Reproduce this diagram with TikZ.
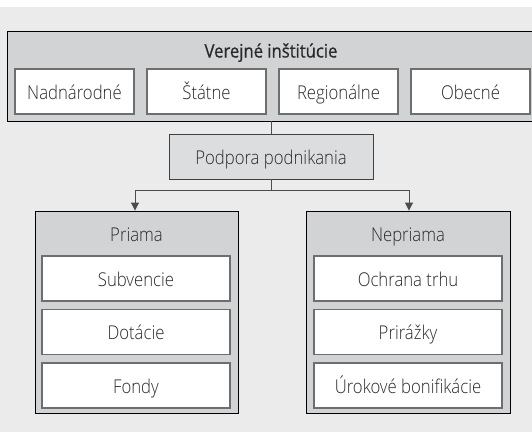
\documentclass[tikz,border=0pt]{standalone}
\usepackage{fontspec}
\setmainfont{Open Sans Light}[FakeStretch=0.88, BoldFont={Open Sans}, BoldFeatures={FakeBold=0.7, FakeStretch=0.9}]
\usetikzlibrary{arrows.meta}
\definecolor{bgpage}{HTML}{EBEBEC}
\definecolor{groupfill}{HTML}{D2D3D5}
\definecolor{midfill}{HTML}{DCDDDE}
\definecolor{itemline}{HTML}{6E6E6E}
\definecolor{txt}{HTML}{2A2A2A}
\begin{document}
\begin{tikzpicture}[x=1pt,y=-1pt,
  textfont/.style={text=txt, font=\fontsize{19}{22}\selectfont,
    text height=19pt, text depth=4pt},
  group/.style={draw=black, line width=0.9pt, fill=groupfill, inner sep=0pt},
  item/.style={textfont, draw=itemline, line width=1.3pt, fill=white, inner sep=0pt,
    minimum height=45pt},
  label/.style={textfont, inner sep=0pt},
  link/.style={draw=black!70, line width=0.9pt},
  arrowlink/.style={link, -{Triangle[width=8pt,length=8pt]}}]
  \useasboundingbox (0,0) rectangle (532,432);
  \fill[bgpage] (0,7) rectangle (532,432);
  % public institutions
  \node[group, minimum width=540pt, minimum height=90pt] (inst) at (277,76) {};
  \node[label, font=\fontsize{18.5}{22}\selectfont\bfseries] (insttitle) at (271,50) {Verejné inštitúcie};
  \node[item, minimum width=119pt] (nad) at (74.5,91.5) {Nadnárodné};
  \node[item, minimum width=119pt] (stat) at (206.5,91.5) {Štátne};
  \node[item, minimum width=119pt] (reg) at (338.5,91.5) {Regionálne};
  \node[item, minimum width=119pt] (obec) at (470.5,91.5) {Obecné};
  % business support
  \node[textfont, draw=black!75, line width=0.9pt, fill=midfill, minimum width=204pt,
    minimum height=45pt, inner sep=0pt] (podpora) at (271,156.5) {Podpora podnikania};
  % direct support
  \node[group, minimum width=203pt, minimum height=202pt] (priama) at (136.5,312) {};
  \node[label] (priamat) at (136.5,234) {Priama};
  \node[item, minimum width=188pt] (subv) at (136,278.5) {Subvencie};
  \node[item, minimum width=188pt] (dot) at (136,332) {Dotácie};
  \node[item, minimum width=188pt] (fond) at (136,385.5) {Fondy};
  % indirect support
  \node[group, minimum width=204pt, minimum height=202pt] (nepriama) at (408,312) {};
  \node[label] (nepriamat) at (408,234) {Nepriama};
  \node[item, minimum width=188pt] (ochr) at (408,278.5) {Ochrana trhu};
  \node[item, minimum width=188pt] (prir) at (408,332) {Prirážky};
  \node[item, minimum width=188pt] (urok) at (408,385.5) {Úrokové bonifikácie};
  % connectors
  \draw[link] (inst.south -| podpora.north) -- (podpora.north);
  \coordinate (split) at ([yshift=-11pt]podpora.south);
  \draw[link] (podpora.south) -- (split);
  \draw[arrowlink] (split) -| ([xshift=-1.5pt]priama.north);
  \draw[arrowlink] (split) -| ([xshift=1pt]nepriama.north);
\end{tikzpicture}
\end{document}
